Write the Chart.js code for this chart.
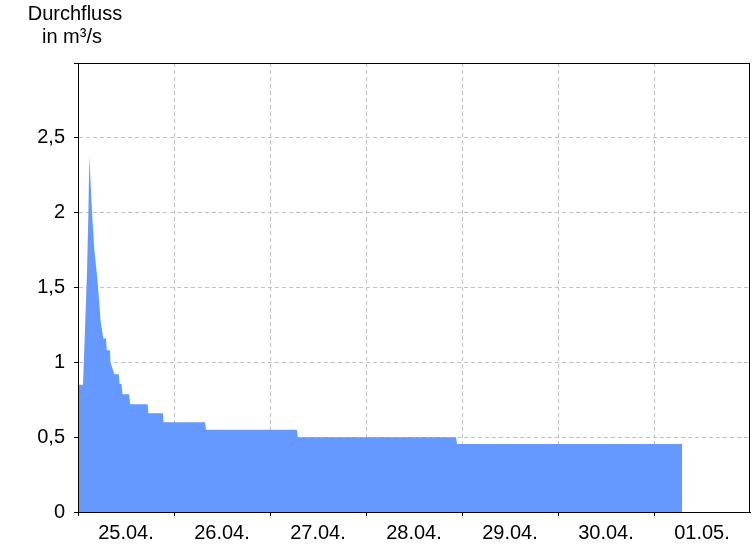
<!DOCTYPE html>
<html>
<head>
<meta charset="utf-8">
<script src="https://cdn.jsdelivr.net/npm/chart.js@4.4.1/dist/chart.umd.min.js"></script>
<style>
  html, body { margin: 0; padding: 0; background: #fff; }
  #wrap { width: 756px; height: 546px; }
</style>
</head>
<body>
<div id="wrap"><canvas id="grafico"></canvas></div>
<script>
// Stunden ab 25.04. 00:00
const stunden = [0, 1, 1.25, 2.25, 2.6, 2.83, 3.5, 4.08, 4.67, 4.9, 5.67, 6.33, 7, 7.2, 8, 8.1, 9.1, 10.2, 10.4, 10.9, 11.1,
                 12.8, 13.0, 17.4, 17.6, 21.2, 21.4, 31.75, 32.0, 54.7, 54.95, 94.5, 94.75, 151];
const durchfluss = [0.85, 0.85, 0.85, 1.6, 2.0, 2.38, 2.0, 1.75, 1.6, 1.54, 1.27, 1.16, 1.16, 1.08, 1.08, 1.0, 0.92, 0.92, 0.856, 0.856, 0.786,
                    0.786, 0.72, 0.72, 0.66, 0.66, 0.60, 0.60, 0.55, 0.55, 0.50, 0.50, 0.455, 0.455];
const tagLabels = ['25.04.', '26.04.', '27.04.', '28.04.', '29.04.', '30.04.', '01.05.'];
const yTicks = [0, 0.5, 1, 1.5, 2, 2.5, 3];

const schrift = "'Liberation Sans', Arial, sans-serif";

const rahmen = {
    id: 'rahmen',
    afterDraw(chart) {
        const { ctx, chartArea: a } = chart;
        ctx.save();
        ctx.strokeStyle = '#000';
        ctx.lineWidth = 1;
        ctx.strokeRect(Math.round(a.left) + 0.5, Math.round(a.top) + 0.5,
                       Math.round(a.right - a.left) - 1, Math.round(a.bottom - a.top));
        ctx.fillStyle = '#000';
        ctx.font = '20px ' + schrift;
        ctx.textAlign = 'center';
        ctx.textBaseline = 'middle';
        ctx.fillText('Durchfluss', 75, 14);
        ctx.fillText('in m³/s', 72, 37);
        ctx.restore();
    }
};

const punkte = stunden.map((h, i) => ({ x: h, y: durchfluss[i] }));

new Chart(document.getElementById('grafico').getContext('2d'), {
    type: 'line',
    data: {
        datasets: [{
            data: punkte,
            borderWidth: 0,
            borderColor: 'rgba(0,0,0,0)',
            backgroundColor: '#6699ff',
            fill: 'origin',
            pointRadius: 0,
            tension: 0
        }]
    },
    options: {
        responsive: true,
        maintainAspectRatio: false,
        animation: false,
        layout: { padding: { top: 63, right: 6, left: 0, bottom: 0 } },
        plugins: {
            legend: { display: false },
            tooltip: { enabled: false },
            title: { display: false }
        },
        scales: {
            x: {
                type: 'linear',
                min: 0,
                max: 168,
                afterBuildTicks(axis) {
                    const t = [];
                    for (let h = 0; h <= 168; h += 12) t.push({ value: h });
                    axis.ticks = t;
                },
                afterFit(axis) { axis.height = 34; },
                grid: {
                    color: c => (c.tick && c.tick.value % 24 === 0 && c.tick.value > 0 && c.tick.value < 168) ? '#c4c4c4' : 'rgba(0,0,0,0)',
                    tickColor: c => (c.tick && c.tick.value % 24 === 0 && c.tick.value < 168) ? '#000' : 'rgba(0,0,0,0)',
                    tickLength: 4
                },
                border: { color: '#000', dash: [4, 3] },
                ticks: {
                    autoSkip: false,
                    maxRotation: 0,
                    padding: 5,
                    color: '#000',
                    font: { size: 20, family: schrift },
                    callback: v => ((v - 12) % 24 === 0) ? tagLabels[(v - 12) / 24] : ''
                }
            },
            y: {
                min: 0,
                max: 3,
                afterBuildTicks(axis) { axis.ticks = yTicks.map(v => ({ value: v })); },
                afterFit(axis) { axis.width = 78; },
                grid: {
                    color: c => (c.tick && c.tick.value > 0 && c.tick.value < 3) ? '#c4c4c4' : 'rgba(0,0,0,0)',
                    tickColor: '#000',
                    tickLength: 4
                },
                border: { color: '#000', dash: [4, 3] },
                ticks: {
                    padding: 9,
                    color: '#000',
                    font: { size: 20, family: schrift },
                    callback: v => v === 3 ? '' : String(v).replace('.', ',')
                }
            }
        }
    },
    plugins: [rahmen]
});
</script>
</body>
</html>
